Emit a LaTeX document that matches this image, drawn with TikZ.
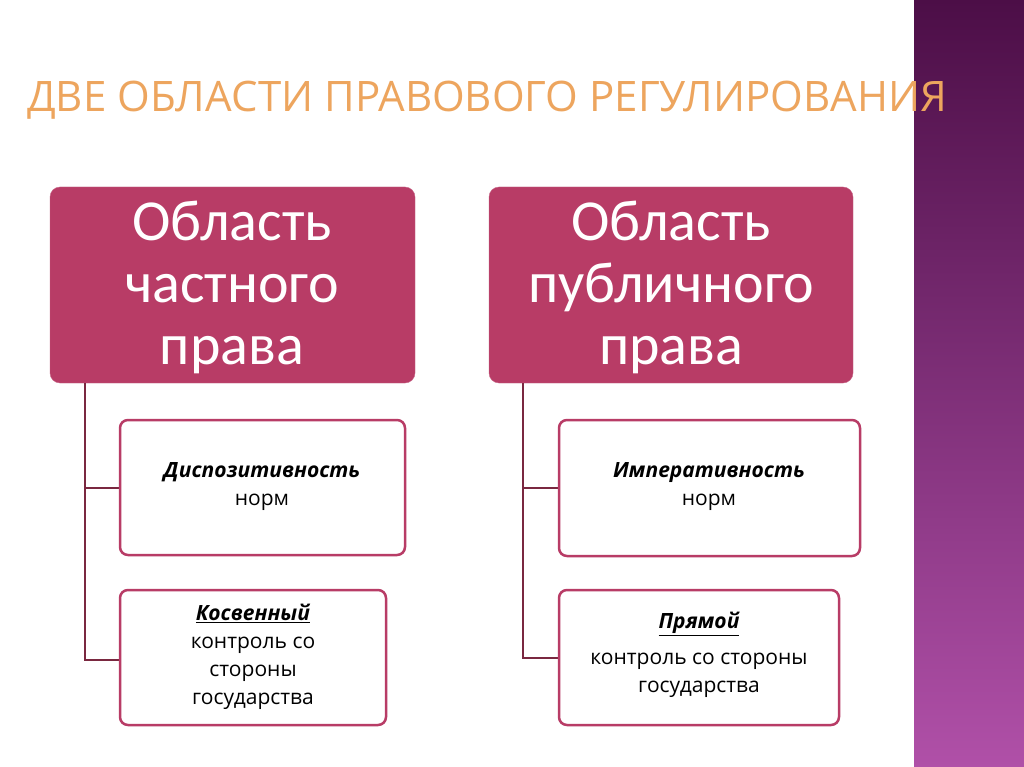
\documentclass[tikz,border=0pt]{standalone}
\usepackage{fontspec}
\setmainfont{Carlito}
\newfontfamily\osans{Open Sans}
\definecolor{rose}{HTML}{B83C66}
\definecolor{bandtop}{HTML}{4C0E47}
\definecolor{bandbot}{HTML}{B050A8}
\definecolor{ttl}{HTML}{EDA55E}
\definecolor{conn}{HTML}{7A2840}
\tikzset{
 big/.style={fill=rose,draw=rose!80!white,rounded corners=10pt},
 bigtext/.style={text=white,font=\fontsize{58}{62}\selectfont,align=center},
 small/.style={draw=rose,line width=2.5pt,fill=white,rounded corners=8pt},
 smalltext/.style={font=\osans\fontsize{21}{28}\selectfont,align=center},
 cn/.style={conn,line width=2pt}
}
\begin{document}
\begin{tikzpicture}[x=1pt,y=-1pt]
\useasboundingbox (0,0) rectangle (1024,767);
\fill[white] (0,0) rectangle (1024,767);
\shade[top color=bandtop,bottom color=bandbot] (914,0) rectangle (1024,767);
\node[anchor=west,text=ttl,font=\osans\fontsize{42}{44}\selectfont,inner sep=0] (title) at (27,100) {ДВЕ ОБЛАСТИ ПРАВОВОГО РЕГУЛИРОВАНИЯ};
\path[big] (50,187) rectangle (415,383);
\node[bigtext] (L) at (232,287) {Область\\частного\\права};
\path[big] (489,187) rectangle (853,383);
\node[bigtext] (R) at (671,287) {Область\\публичного\\права};
\coordinate (Lt) at (85,383); \coordinate (Rt) at (523,383);
\draw[cn] (Lt) -- (85,660) -- (120,660);
\draw[cn] (85,488) -- (120,488);
\draw[cn] (Rt) -- (523,658) -- (559,658);
\draw[cn] (523,488) -- (559,488);
\draw[small] (120,420) rectangle (405,555);
\node[smalltext] (l1) at (262,487) {\textbf{\textit{Диспозитивность}}\\норм};
\draw[small] (120,590) rectangle (386,725);
\node[smalltext] (l2) at (253,657) {\textbf{\textit{\underline{Косвенный}}}\\контроль со\\стороны\\государства};
\draw[small] (559,420) rectangle (860,556);
\node[smalltext] (r1) at (709,487) {\textbf{\textit{Императивность}}\\норм};
\draw[small] (559,590) rectangle (839,725);
\node[smalltext] (r2) at (699,655) {\textbf{\textit{\underline{Прямой}}}\\[8pt]контроль со стороны\\государства};
\end{tikzpicture}
\end{document}
